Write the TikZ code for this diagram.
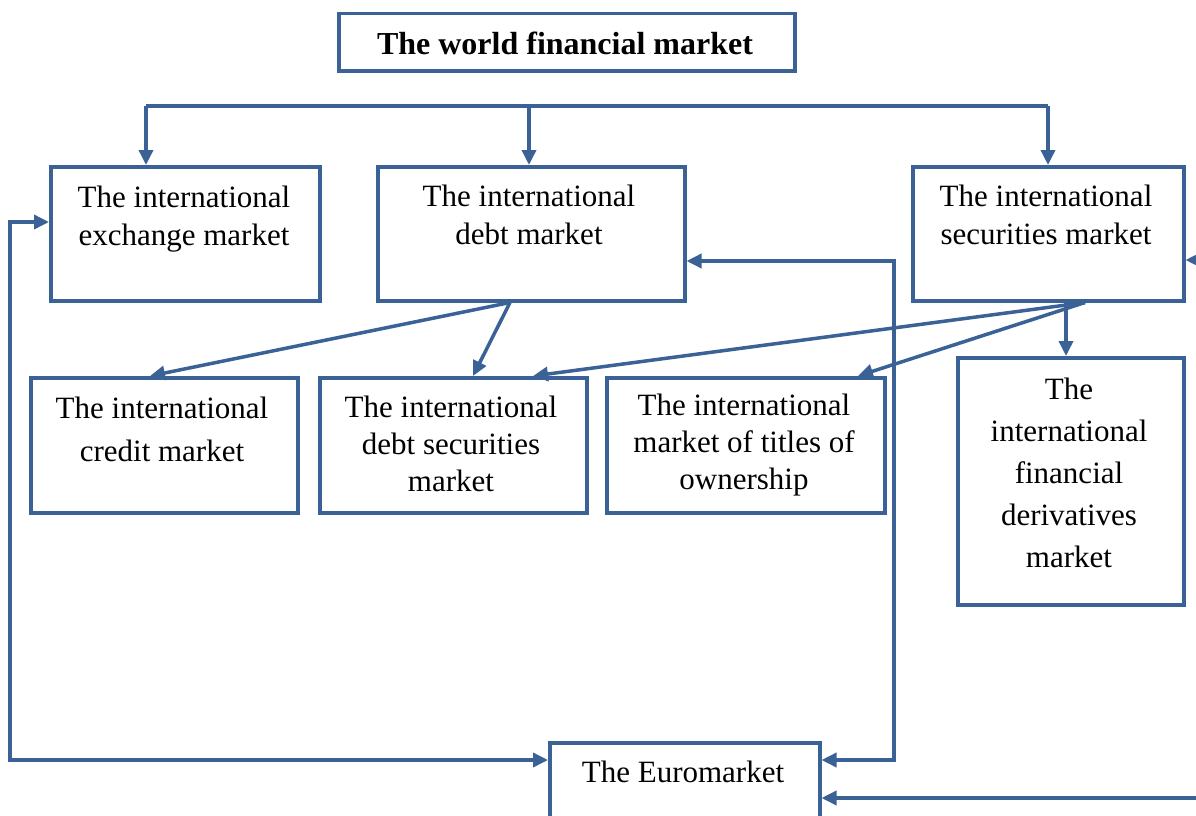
\documentclass[tikz,border=0pt]{standalone}
\usepackage{fontspec}
\setmainfont{Liberation Serif}
\usetikzlibrary{arrows.meta,calc}
\definecolor{lineblue}{RGB}{58,98,150}
\tikzset{
  box/.style={draw=lineblue,line width=3.5pt,inner sep=0pt,anchor=north west},
  txt/.style={align=center,inner sep=0pt,font=\fontsize{31}{38}\selectfont},
  conn/.style={draw=lineblue,line width=3.5pt,-{Triangle[length=15pt,width=14pt]}},
  dconn/.style={draw=lineblue,line width=3.5pt,{Triangle[length=15pt,width=14pt]}-{Triangle[length=15pt,width=14pt]}},
  plain/.style={draw=lineblue,line width=3.5pt}
}
\begin{document}
\begin{tikzpicture}[x=1pt,y=-1pt]
\clip (0,0) rectangle (1196,816);
\fill[white] (0,0) rectangle (1196,816);
% boxes
\node[box,minimum width=456pt,minimum height=57pt] (title) at (337,12) {};
\node[box,minimum width=269pt,minimum height=134pt] (exch) at (49,165) {};
\node[box,minimum width=307pt,minimum height=134pt] (debt) at (376,165) {};
\node[box,minimum width=271pt,minimum height=134pt] (sec) at (911,165) {};
\node[box,minimum width=267pt,minimum height=135pt] (cred) at (29,376) {};
\node[box,minimum width=267pt,minimum height=135pt] (dsec) at (318,376) {};
\node[box,minimum width=278pt,minimum height=135pt] (tit) at (605,376) {};
\node[box,minimum width=226pt,minimum height=247pt] (deriv) at (956,356) {};
\node[box,minimum width=270pt,minimum height=130pt] (euro) at (548,741) {};
% texts
\node[txt,font=\fontsize{32}{38}\selectfont\bfseries] (titlet) at (565,43) {The world financial market};
\node[txt] (excht) at (184,219) {The international\\exchange market};
\node[txt] (debtt) at (529,215) {The international\\debt market};
\node[txt] (sect) at (1046,215) {The international\\securities market};
\node[txt,font=\fontsize{31}{43}\selectfont] (credt) at (162,429) {The international\\credit market};
\node[txt,font=\fontsize{31}{37}\selectfont] (dsect) at (451,444) {The international\\debt securities\\market};
\node[txt,font=\fontsize{31}{37}\selectfont] (titt) at (744,445) {The international\\market of titles of\\ownership};
\node[txt,font=\fontsize{31}{42}\selectfont] (derivt) at (1069,473) {The\\international\\financial\\derivatives\\market};
\node[txt] (eurot) at (683,772) {The Euromarket};
% top distribution bar
\coordinate (barL) at (146,106);
\coordinate (barM) at (529,106);
\coordinate (barR) at (1048,106);
\draw[plain] (barL) -- (barR);
\draw[conn] (barL) -- (barL |- exch.north);
\draw[conn] (barM) -- (barM |- debt.north);
\draw[conn] (barR) -- (barR |- sec.north);
% debt market branches
\draw[conn] ($(debt.south west)+(134,0)$) -- ($(cred.north west)+(121,0)$);
\draw[conn] ($(debt.south west)+(134,0)$) -- ($(dsec.north west)+(155,0)$);
% securities market branches
\draw[conn] ($(sec.south west)+(174,0)$) -- ($(dsec.north west)+(215,0)$);
\draw[conn] ($(sec.south west)+(174,0)$) -- ($(tit.north west)+(253,0)$);
\draw[conn] ($(sec.south west)+(155,0)$) -- ($(deriv.north west)+(110,0)$);
% loops to the Euromarket
\draw[dconn] ($(euro.north west)+(0,19)$) -- (10,760) -- (10,222) -- (exch.west |- 0,222);
\draw[dconn] ($(euro.north east)+(0,19)$) -- (894,760) -- (894,261) -- (debt.east |- 0,261);
\draw[dconn] ($(euro.north east)+(0,57)$) -- (1210,798) -- (1210,260) -- (sec.east |- 0,260);
\end{tikzpicture}
\end{document}
